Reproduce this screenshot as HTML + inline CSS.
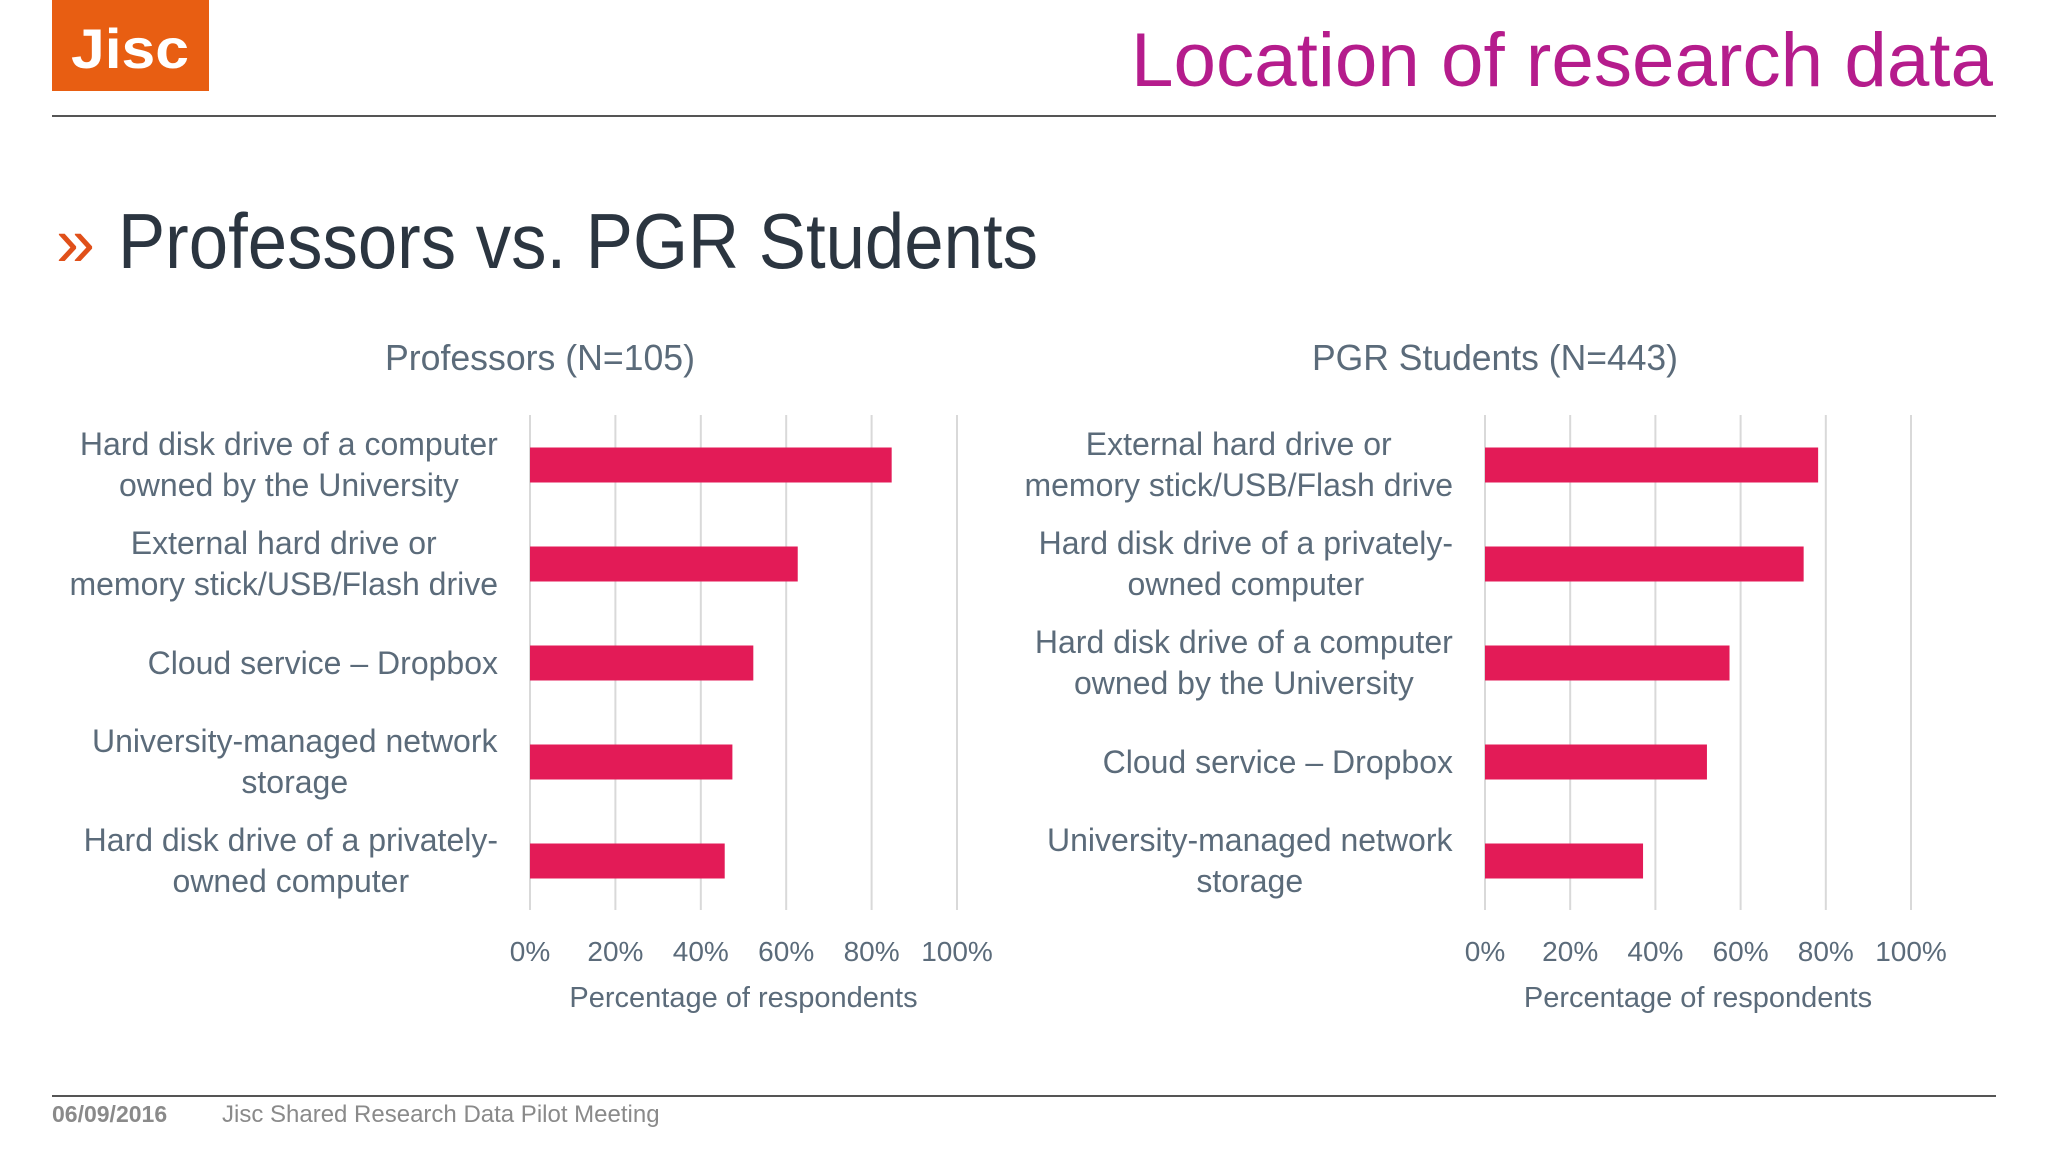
<!DOCTYPE html>
<html><head><meta charset="utf-8"><style>
html,body{margin:0;padding:0;background:#fff;}
svg{display:block;font-family:"Liberation Sans",sans-serif;}
</style></head><body>
<svg id="s" width="2048" height="1152" viewBox="0 0 2048 1152">
  <rect x="52" y="0" width="157" height="91" fill="#e85e12"/>
  <text x="130" y="68" text-anchor="middle" font-size="56" font-weight="bold" fill="#fff" textLength="118" lengthAdjust="spacingAndGlyphs">Jisc</text>
  <text x="1993" y="86" text-anchor="end" font-size="76" fill="#b51c8c" textLength="862" lengthAdjust="spacingAndGlyphs">Location of research data</text>
  <rect x="52" y="115" width="1944" height="2" fill="#555"/>
  <text x="56" y="266" font-size="70" fill="#e0501a">»</text>
  <text x="118" y="268" font-size="78" fill="#2b3540" textLength="920" lengthAdjust="spacingAndGlyphs">Professors vs. PGR Students</text>
  <text x="540" y="370" text-anchor="middle" font-size="36" fill="#5b6b7a" textLength="310" lengthAdjust="spacingAndGlyphs">Professors (N=105)</text>
  <text x="1495" y="370" text-anchor="middle" font-size="36" fill="#5b6b7a" textLength="366" lengthAdjust="spacingAndGlyphs">PGR Students (N=443)</text>
  <g id="c1"></g>
  <g id="c2"></g>
  <rect x="52" y="1095" width="1944" height="2" fill="#555"/>
  <text x="52" y="1122" font-size="23" font-weight="bold" fill="#8a8a8a">06/09/2016</text>
  <text x="222" y="1122" font-size="24" fill="#8a8a8a">Jisc Shared Research Data Pilot Meeting</text>
</svg>
<script>
const ticks = [0, 20, 40, 60, 80, 100];
const tickLabels = ["0%", "20%", "40%", "60%", "80%", "100%"];
const profCategories = [["Hard disk drive of a computer","owned by the University"],["External hard drive or","memory stick/USB/Flash drive"],["Cloud service \u2013 Dropbox"],["University-managed network","storage"],["Hard disk drive of a privately-","owned computer"]];
const profValues = [84.7, 62.7, 52.3, 47.4, 45.6];
const pgrCategories = [["External hard drive or","memory stick/USB/Flash drive"],["Hard disk drive of a privately-","owned computer"],["Hard disk drive of a computer","owned by the University"],["Cloud service \u2013 Dropbox"],["University-managed network","storage"]];
const pgrValues = [78.2, 74.8, 57.4, 52.1, 37.1];

const NS = "http://www.w3.org/2000/svg";
function mk(tag, attrs, parent){const e=document.createElementNS(NS,tag);for(const k in attrs)e.setAttribute(k,attrs[k]);parent.appendChild(e);return e;}

function drawChart(g, x0, x1, cats, vals, prefix){
  const xs = v => x0 + (x1 - x0) * v / 100;
  const top = 415, bottom = 910, step = 99, firstY = 465, barH = 35;
  const ys = i => firstY + i * step;
  ticks.forEach((t, i) => {
    const l = mk('line', {x1: xs(t), x2: xs(t), y1: top, y2: bottom, stroke: '#d9d9d9', 'stroke-width': 2}, g);
    
    
    const tl = mk('text', {x: xs(t), y: 961, 'text-anchor': 'middle', 'font-size': 28, fill: '#5b6b7a'}, g);
    tl.textContent = tickLabels[i];
    
    
  });
  const labelGroups = [];
  vals.forEach((v, i) => {
    const b = mk('rect', {x: xs(0), y: ys(i) - barH / 2, width: xs(v) - xs(0), height: barH, fill: '#e31b57'}, g);
    
    
    const lines = cats[i];
    const offs = lines.length === 1 ? [11] : [-10, 31];
    const els = [];
    lines.forEach((ln, j) => {
      const t = mk('text', {x: x0 - 32, y: ys(i) + offs[j], 'text-anchor': 'end', 'font-size': 32, fill: '#5b6b7a'}, g);
      t.textContent = ln;
      
      
      els.push(t);
    });
    labelGroups.push(els);
  });
  labelGroups.forEach(els => {
    if (els.length < 2) return;
    const w = Math.max(...els.map(e => e.getBBox().width));
    const cx = x0 - 32 - w / 2;
    els.forEach(e => { e.setAttribute('text-anchor', 'middle'); e.setAttribute('x', cx); });
  });
  const at = mk('text', {x: (xs(0) + xs(100)) / 2, y: 1007, 'text-anchor': 'middle', 'font-size': 29, fill: '#5b6b7a'}, g);
  at.textContent = 'Percentage of respondents';
  
  
}
drawChart(document.getElementById('c1'), 530, 957, profCategories, profValues, 'professors');
drawChart(document.getElementById('c2'), 1485, 1911, pgrCategories, pgrValues, 'pgr');
</script>
</body></html>
